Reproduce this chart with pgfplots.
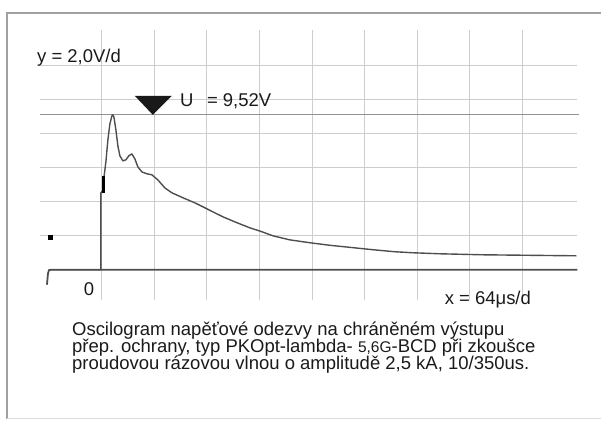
\documentclass[border=0pt]{standalone}
\usepackage{fontspec}
\setmainfont{Liberation Sans}
\usepackage{pgfplots}
\pgfplotsset{compat=1.18}
\definecolor{gridc}{HTML}{CDCDCD}
\definecolor{trace}{HTML}{4E4E4E}
\definecolor{framec}{HTML}{A0A0A0}
\definecolor{txt}{HTML}{1A1A1A}
\tikzset{lab/.style={font=\fontsize{18.5}{17}\selectfont, text=txt, inner sep=0pt}}
\begin{document}
\begin{tikzpicture}
\begin{axis}[
  width=602pt, height=421pt, scale only axis,
  xmin=-124.11, xmax=608.37, ymin=-8.882, ymax=15.882,
  axis lines=none, clip=false, xtick=\empty, ytick=\empty,
]
% full picture area
\path (rel axis cs:0,0) rectangle (rel axis cs:1,1);
% frame
\draw[framec, line width=1.2pt] (axis cs:-115.59,-8.765) -- (axis cs:-115.59,15.118) -- (axis cs:608.37,15.118);
\draw[gridc!70, line width=0.8pt] (axis cs:-115.59,-8.765) -- (axis cs:608.37,-8.765);
% grid
\pgfplotsinvokeforeach{0,64,128,192,256,320,384,448,512}{
  \draw[gridc, line width=1pt] (axis cs:#1,14.118) -- (axis cs:#1,-1.765);
}
\pgfplotsinvokeforeach{2,4,6,8,10,12}{
  \draw[gridc, line width=1pt] (axis cs:-75.4,#1) -- (axis cs:579.2,#1);
}
% cursor line
\draw[gray!85, line width=1pt] (axis cs:-75.4,9.118) -- (axis cs:581.6,9.118);
% zero baseline
\addplot[trace, line width=1.8pt] coordinates {(-66.92,-0.882) (-65.70,-0.235) (-64.49,-0.03) (-62.05,0) (579.2,0)};
% reference marker
\addplot[only marks, mark=square*, mark size=2pt, black] coordinates {(-63.27,1.94)};
% trace
\addplot[trace, line width=1.4pt, line join=round] coordinates {
(-62.05,0) (-1.22,0) (-1.22,4.53) (0,4.59) (1.22,4.71) (2.43,5.41) (4.87,6.35)
(7.30,7.65) (9.73,8.59) (12.17,9.06) (13.38,9.12) (14.60,9.0) (17.03,8.24)
(19.47,7.29) (21.90,6.71) (25.55,6.41) (29.20,6.47) (32.85,6.71) (36.50,6.82)
(40.15,6.53) (43.80,6.06) (48.67,5.76) (54.75,5.65) (60.84,5.59) (68.14,5.29)
(76.65,4.82) (85.17,4.53) (98.56,4.24) (113.16,3.94) (125.32,3.65) (137.49,3.35)
(147.22,3.12) (161.83,2.82) (180.08,2.47) (194.68,2.24) (208.06,2.0) (228.75,1.76)
(253.08,1.59) (277.41,1.44) (301.75,1.32) (329.73,1.18) (356.50,1.06) (378.40,1.0)
(411.25,0.94) (463.57,0.88) (520.76,0.85) (577.95,0.82)
};
\addplot[black, line width=2.4pt] coordinates {(1.9,4.5) (1.9,5.5)};
% marker triangle
\fill[black!90] (axis cs:40.15,10.235) -- (axis cs:85.17,10.235) -- (axis cs:62.05,9.118) -- cycle;
% texts
\node[lab, anchor=base west] at (axis cs:-79.09,12.176) {y = 2,0V/d};
\node[lab, anchor=base west] at (axis cs:94.9,9.588) {U};
\node[lab, anchor=base west] at (axis cs:127.76,9.588) {= 9,52V};
\node[lab, anchor=base] at (axis cs:-15.82,-1.529) {0};
\node[lab, anchor=base west] at (axis cs:417.34,-2.059) {x = 64μs/d};
\node[lab, anchor=base west] at (axis cs:-36.5,-3.882) {Oscilogram napěťové odezvy na chráněném výstupu};
\node[lab, anchor=base west] at (axis cs:-36.5,-4.882) {přep. ochrany, typ PKOpt-lambda- {\fontsize{15.5}{17}\selectfont 5,6G}-BCD při zkoušce};
\node[lab, anchor=base west] at (axis cs:-36.5,-5.882) {proudovou rázovou vlnou o amplitudě 2,5 kA, 10/350us.};
\end{axis}
\end{tikzpicture}
\end{document}
